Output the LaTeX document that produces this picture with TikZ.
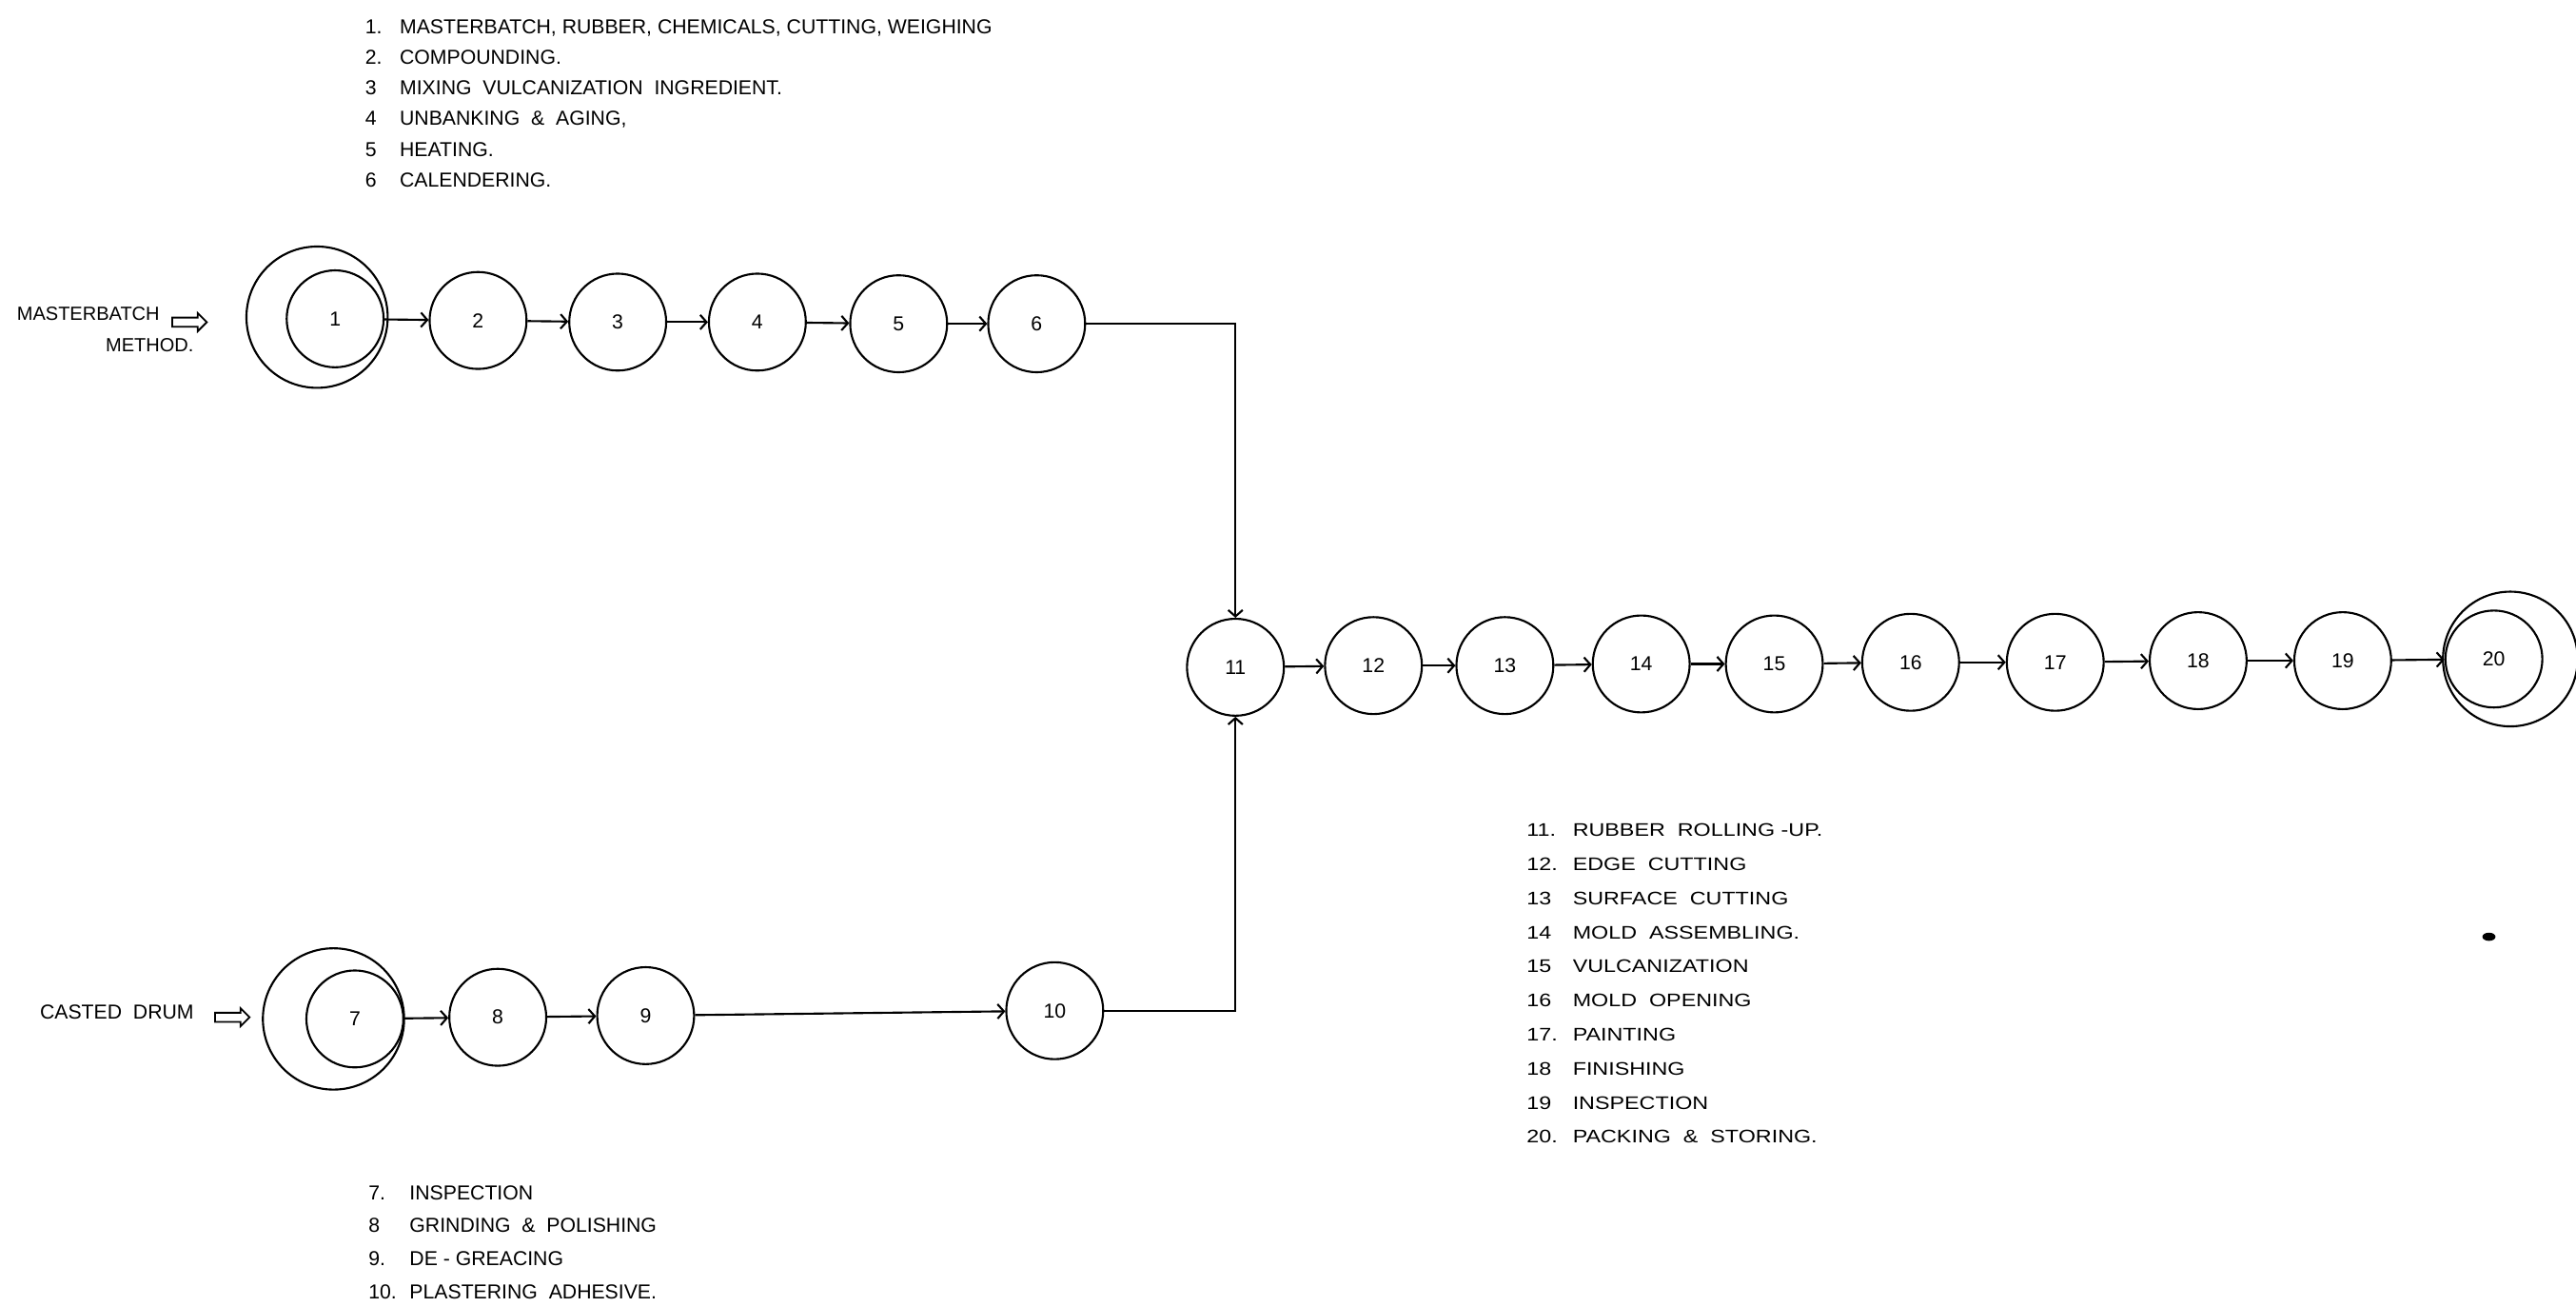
\documentclass[tikz,border=0pt]{standalone}
\usepackage{fontspec}
\setmainfont{Liberation Sans}
\newfontfamily\widefont[FakeStretch=1.22]{Liberation Sans}
\usetikzlibrary{arrows.meta, shapes.arrows}
\tikzstyle{flow} = [line width=0.7pt, -{Straight Barb[length=2.2pt,width=5pt]}]

\begin{document}
\begin{tikzpicture}[x=0.02cm, y=-0.02cm,
    stage/.style={circle, draw, line width=0.7pt, minimum size=1.18cm,
                  inner sep=0pt, font=\fontsize{7}{8}\selectfont},
    ring/.style={circle, draw, line width=0.7pt, minimum size=#1, inner sep=0pt},
    feed/.style={single arrow, draw, line width=0.6pt, minimum height=0.42cm,
                 inner xsep=0pt, inner ysep=0.045cm, text height=0pt, text depth=0pt,
                 single arrow head extend=0.055cm},
    lbl/.style={font=\fontsize{6.6}{8}\selectfont, inner sep=0pt, anchor=base west},
    legend/.style={inner sep=0pt, anchor=base west}
]
\useasboundingbox (0,0) rectangle (1568,795);

% --- Masterbatch line ---
\node[lbl] (mlabel) at (10,195) {MASTERBATCH};
\node[lbl] (mlabel2) at (64,214) {METHOD.};
\node[feed] (mfeed) at (114,196) {};
\node[ring=1.72cm] (n1out) at (193,193) {};
\node[stage] (n1) at (204,194) {1};
\node[stage] (n2) at (291,195) {2};
\node[stage] (n3) at (376,196) {3};
\node[stage] (n4) at (461,196) {4};
\node[stage] (n5) at (547,197) {5};
\node[stage] (n6) at (631,197) {6};

% --- Casted drum line ---
\node[lbl, font=\fontsize{7}{8}\selectfont] (clabel) at (24,620) {CASTED~~DRUM};
\node[feed] (cfeed) at (140,619) {};
\node[ring=1.72cm] (n7out) at (203,620) {};
\node[stage] (n7) at (216,620) {7};
\node[stage] (n8) at (303,619) {8};
\node[stage] (n9) at (393,618) {9};
\node[stage] (n10) at (642,615) {10};

% --- Main line ---
\node[stage] (n11) at (752,406) {11};
\node[stage] (n12) at (836,405) {12};
\node[stage] (n13) at (916,405) {13};
\node[stage] (n14) at (999,404) {14};
\node[stage] (n15) at (1080,404) {15};
\node[stage] (n16) at (1163,403) {16};
\node[stage] (n17) at (1251,403) {17};
\node[stage] (n18) at (1338,402) {18};
\node[stage] (n19) at (1426,402) {19};
\node[ring=1.64cm] (n20out) at (1528,401) {};
\node[stage] (n20) at (1518,401) {20};

% --- Flow arrows ---
\draw[flow] (n1) -- (n2);
\draw[flow] (n2) -- (n3);
\draw[flow] (n3) -- (n4);
\draw[flow] (n4) -- (n5);
\draw[flow] (n5) -- (n6);
\draw[flow] (n6) -| (n11);
\draw[flow] (n7) -- (n8);
\draw[flow] (n8) -- (n9);
\draw[flow] (n9) -- (n10);
\draw[flow] (n10) -| (n11);
\draw[flow] (n11) -- (n12);
\draw[flow] (n12) -- (n13);
\draw[flow] (n13) -- (n14);
\draw[flow] (n14) -- (n15);
\draw[flow] (n15) -- (n16);
\draw[flow] (n16) -- (n17);
\draw[flow] (n17) -- (n18);
\draw[flow] (n18) -- (n19);
\draw[flow] (n19) -- (n20);

% --- Legends ---
\node[legend] (toplist) at (222,20.5) {\fontsize{7}{10.6}\selectfont
  \begin{tabular}[t]{@{}p{0.42cm}@{}l@{}}
  1. & MASTERBATCH, RUBBER, CHEMICALS, CUTTING, WEIGHING\\
  2. & COMPOUNDING.\\
  3  & MIXING~~VULCANIZATION~~INGREDIENT.\\
  4  & UNBANKING~~\&~~AGING,\\
  5  & HEATING.\\
  6  & CALENDERING.
  \end{tabular}};
\node[legend] (bottomlist) at (224,730) {\fontsize{7}{11.4}\selectfont
  \begin{tabular}[t]{@{}p{0.5cm}@{}l@{}}
  7.  & INSPECTION\\
  8   & GRINDING~~\&~~POLISHING\\
  9.  & DE - GREACING\\
  10. & PLASTERING~~ADHESIVE.
  \end{tabular}};
\node[legend] (rightlist) at (929,509) {\widefont\fontsize{6.3}{11.8}\selectfont
  \begin{tabular}[t]{@{}p{0.56cm}@{}l@{}}
  11. & RUBBER~~ROLLING -UP.\\
  12. & EDGE~~CUTTING\\
  13  & SURFACE~~CUTTING\\
  14  & MOLD~~ASSEMBLING.\\
  15  & VULCANIZATION\\
  16  & MOLD~~OPENING\\
  17. & PAINTING\\
  18  & FINISHING\\
  19  & INSPECTION\\
  20. & PACKING~~\&~~STORING.
  \end{tabular}};

% --- ink blot ---
\fill (1515,570) ellipse [x radius=0.08cm, y radius=0.05cm];

\end{tikzpicture}
\end{document}
